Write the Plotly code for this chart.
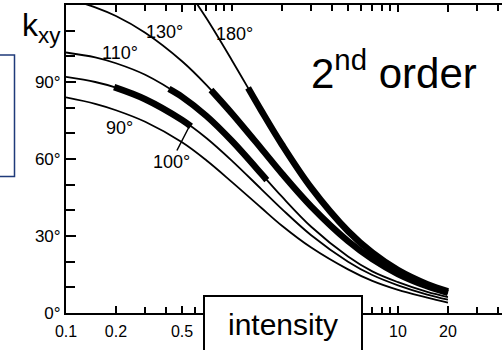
import plotly.graph_objects as go

# ---- data ----
intensity = [0.1, 0.15, 0.2, 0.3, 0.5, 0.7, 1, 1.5, 2, 3, 5, 7, 10, 15, 20]
k_90 = [84, 81.5, 79, 74.5, 66.5, 59.5, 51, 41, 34, 25.5, 17, 12.5, 9, 6, 4]
k_100 = [92, 90, 87.8, 83.3, 75.2, 68.2, 59.3, 48.3, 40.5, 30.3, 20, 14.8, 10.8, 7.2, 5.2]
k_110 = [101.5, 99.6, 97.3, 92.8, 84.2, 76.8, 67, 54.3, 45.3, 33.6, 22, 16.2, 12, 8.2, 6.2]
k_130 = [122.6, 119.1, 115.7, 109.2, 98.1, 88.9, 77.7, 64.1, 54.3, 41.5, 28, 21, 15.2, 10.4, 7.8]
intensity_180 = [0.5, 0.7, 1, 1.5, 2, 3, 5, 7, 10, 15, 20]
k_180 = [129, 114.9, 98.4, 78.9, 65.6, 48.8, 31.9, 23.5, 16.7, 11.2, 8.4]

# thick (measured) parts of the curves
thick_100_I = [0.195, 0.3, 0.5, 0.566]
thick_100_k = [88, 83.3, 75.2, 72.7]
thick_110_I = [0.417, 0.5, 0.7, 1, 1.5, 1.62]
thick_110_k = [87.3, 84.2, 76.8, 67, 54.3, 51.8]
thick_130_I = [0.747, 1, 1.5, 2, 3, 5, 7, 10, 15, 20]
thick_130_k = [86.9, 77.7, 64.1, 54.3, 41.5, 28, 21, 15.2, 10.4, 7.8]
thick_180_I = [1.25, 1.5, 2, 3, 5, 7, 10, 15, 20]
thick_180_k = [87.7, 78.9, 65.6, 48.8, 31.9, 23.5, 16.7, 11.2, 8.4]

curve_labels = ["90°", "100°", "110°", "130°", "180°"]

x_tickvals = [0.1, 0.2, 0.5, 10, 20]
x_ticktext = ["0.1", "0.2", "0.5", "10", "20"]
x_minor = [0.3, 0.4, 0.6, 0.7, 0.8, 0.9, 1, 2, 3, 4, 5, 6, 7, 8, 9, 30, 40]
y_tickvals = [0, 30, 60, 90]
y_ticktext = ["0°", "30°", "60°", "90°"]
y_minor = [10, 20, 40, 50, 70, 80, 100, 110]

# ---- layout geometry (pixels) ----
W, H = 502, 350
L, R, T, B = 66, 0, 5, 37
PW, PH = W - L - R, H - T - B


def px(x):
    return (x - L) / PW


def py(y):
    return (H - B - y) / PH


FONT = "Liberation Sans, Arial, sans-serif"
fig = go.Figure()

thin = dict(color="black", width=1.8, shape="spline", smoothing=1.0)
thick = dict(color="black", width=6.5, shape="spline", smoothing=1.0)

for ks in [k_90, k_100, k_110, k_130]:
    fig.add_trace(go.Scatter(x=intensity, y=ks, mode="lines", line=thin, showlegend=False, hoverinfo="skip"))
fig.add_trace(go.Scatter(x=intensity_180, y=k_180, mode="lines", line=thin, showlegend=False, hoverinfo="skip"))

for xi, ki in [(thick_100_I, thick_100_k), (thick_110_I, thick_110_k),
               (thick_130_I, thick_130_k), (thick_180_I, thick_180_k)]:
    fig.add_trace(go.Scatter(x=xi, y=ki, mode="lines", line=thick, showlegend=False, hoverinfo="skip"))

ann = []
label_pos = {"90°": (119, 128), "110°": (120, 53), "130°": (164, 32), "180°": (234, 34)}
for lab in curve_labels:
    if lab == "100°":
        continue
    x, y = label_pos[lab]
    ann.append(dict(x=px(x), y=py(y), xref="paper", yref="paper", text=lab, showarrow=False,
                    font=dict(family=FONT, size=18, color="black"), xanchor="center", yanchor="middle"))
# 100° label with leader line
ann.append(dict(x=px(189), y=py(127), xref="paper", yref="paper", text="100°", showarrow=True,
                arrowhead=0, arrowwidth=1.5, arrowcolor="black", ax=-18, ay=35, standoff=0,
                font=dict(family=FONT, size=18, color="black")))
# k_xy axis label
ann.append(dict(x=px(20), y=py(50), xref="paper", yref="paper", text="k<sub>xy</sub>", showarrow=False,
                font=dict(family=FONT, size=32, color="black"), xanchor="left", yanchor="bottom"))
# 2nd order
ann.append(dict(x=px(309), y=py(99), xref="paper", yref="paper", text="2<sup>nd</sup> order", showarrow=False,
                font=dict(family=FONT, size=42, color="black"), xanchor="left", yanchor="bottom"))
# intensity
ann.append(dict(x=px(283), y=py(324), xref="paper", yref="paper", text="intensity", showarrow=False,
                font=dict(family=FONT, size=30, color="black"), xanchor="center", yanchor="middle"))

shapes = [
    dict(type="rect", xref="paper", yref="paper", x0=px(204), x1=px(362), y0=py(296), y1=py(360),
         line=dict(color="black", width=2), fillcolor="white", layer="above"),
    dict(type="rect", xref="paper", yref="paper", x0=px(-10), x1=px(14.5), y0=py(55), y1=py(176.5),
         line=dict(color="#1f3a7a", width=1.5), fillcolor="rgba(0,0,0,0)", layer="above"),
]

fig.update_layout(
    width=W, height=H,
    margin=dict(l=L, r=R, t=T, b=B),
    paper_bgcolor="white", plot_bgcolor="white",
    font=dict(family=FONT, size=17, color="black"),
    annotations=ann, shapes=shapes,
    xaxis=dict(type="log", range=[-1, -1 + PW / 166.0], showgrid=False, zeroline=False,
               showline=True, linecolor="black", linewidth=2, mirror="ticks",
               ticks="inside", ticklen=7, tickwidth=1.5, tickcolor="black",
               tickvals=x_tickvals, ticktext=x_ticktext, ticklabelstandoff=3,
               minor=dict(tickvals=x_minor, ticks="inside", ticklen=6, tickwidth=1.5,
                          tickcolor="black", showgrid=False),
               tickfont=dict(family=FONT, size=16, color="black")),
    yaxis=dict(range=[0, 120], showgrid=False, zeroline=False,
               showline=True, linecolor="black", linewidth=2,
               ticks="inside", ticklen=10, tickwidth=1.5, tickcolor="black",
               tickvals=y_tickvals, ticktext=y_ticktext,
               minor=dict(tickvals=y_minor, ticks="inside", ticklen=9, tickwidth=1.5,
                          tickcolor="black", showgrid=False),
               tickfont=dict(family=FONT, size=17, color="black")),
)

fig.write_html("out.html")
